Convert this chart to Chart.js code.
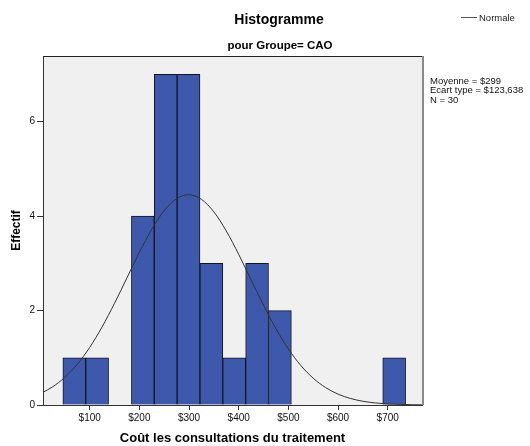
<!DOCTYPE html>
<html>
<head>
<meta charset="utf-8">
<script src="https://cdn.jsdelivr.net/npm/chart.js@4/dist/chart.umd.min.js"></script>
<style>
html,body{margin:0;padding:0;background:#fff;}
#wrap{width:530px;height:446px;position:relative;}
</style>
</head>
<body>
<div id="wrap"><canvas id="c" width="530" height="446"></canvas></div>
<script>
// ---- Data ----
const binStarts = [46, 92, 138, 184, 230, 276, 322, 368, 414, 460, 506, 552, 598, 644, 690];
const binWidth = 46;
const counts = [1, 1, 0, 4, 7, 7, 3, 1, 3, 2, 0, 0, 0, 0, 1];
const curveX = [6, 25, 50, 75, 100, 125, 150, 175, 200, 225, 250, 275, 299, 325, 350, 375, 400, 425, 450, 475, 500, 525, 550, 575, 600, 625, 650, 675, 700, 725, 750, 769];
const curveY = [0.268, 0.382, 0.586, 0.862, 1.219, 1.654, 2.154, 2.692, 3.231, 3.722, 4.116, 4.369, 4.452, 4.355, 4.089, 3.685, 3.189, 2.649, 2.112, 1.616, 1.187, 0.837, 0.567, 0.369, 0.230, 0.138, 0.079, 0.044, 0.023, 0.012, 0.006, 0.003];
const xTickValues = [100, 200, 300, 400, 500, 600, 700];
const yTickValues = [0, 2, 4, 6];
const titleText = "Histogramme";
const subtitleText = "pour Groupe= CAO";
const legendLabel = "Normale";
const statsLines = ["Moyenne = $299", "Ecart type = $123,638", "N = 30"];
const xTitle = "Coût les consultations du traitement";
const yTitle = "Effectif";

const FONT = "'Liberation Sans', Arial, sans-serif";

const barData = binStarts.map((s, i) => ({ x: s + binWidth / 2, y: counts[i] > 0 ? counts[i] : null }));
const curveData = curveX.map((x, i) => ({ x: x, y: curveY[i] }));

const decor = {
  id: 'decor',
  beforeDraw(chart) {
    const { ctx, chartArea: a } = chart;
    ctx.save();
    ctx.fillStyle = '#f0f0f0';
    ctx.fillRect(a.left, a.top, a.right - a.left, a.bottom - a.top);
    ctx.restore();
  },
  afterDraw(chart) {
    const { ctx, chartArea: a } = chart;
    ctx.save();
    // top border
    ctx.strokeStyle = '#222';
    ctx.lineWidth = 1;
    ctx.beginPath();
    ctx.moveTo(a.left, a.top + 0.5);
    ctx.lineTo(a.right, a.top + 0.5);
    ctx.stroke();
    // right border (grey)
    ctx.strokeStyle = '#8a8a8a';
    ctx.lineWidth = 2;
    ctx.beginPath();
    ctx.moveTo(a.right + 1, a.top);
    ctx.lineTo(a.right + 1, a.bottom);
    ctx.stroke();

    // titles
    ctx.fillStyle = '#000';
    ctx.textAlign = 'center';
    ctx.textBaseline = 'middle';
    ctx.font = 'bold 14px ' + FONT;
    ctx.fillText(titleText, 279, 20);
    ctx.font = 'bold 11.5px ' + FONT;
    ctx.fillText(subtitleText, 280, 46);

    // legend
    ctx.strokeStyle = '#555';
    ctx.lineWidth = 1;
    ctx.beginPath();
    ctx.moveTo(461, 17.5);
    ctx.lineTo(477, 17.5);
    ctx.stroke();
    ctx.textAlign = 'left';
    ctx.font = '9.5px ' + FONT;
    ctx.fillStyle = '#222';
    ctx.fillText(legendLabel, 479, 18);

    // stats
    ctx.font = '9.5px ' + FONT;
    ctx.fillStyle = '#111';
    statsLines.forEach((t, i) => ctx.fillText(t, 430, 81 + i * 9.5));
    ctx.restore();
  }
};

new Chart(document.getElementById('c'), {
  type: 'bar',
  data: {
    datasets: [
      {
        type: 'line',
        label: legendLabel,
        data: curveData,
        borderColor: '#333',
        borderWidth: 1,
        pointRadius: 0,
        tension: 0.4,
        cubicInterpolationMode: 'monotone',
        fill: false,
        order: 0
      },
      {
        type: 'bar',
        label: 'Effectif',
        data: barData,
        backgroundColor: '#3e58ac',
        borderColor: '#15151f',
        borderWidth: 1,
        barPercentage: 1,
        categoryPercentage: 1,
        order: 1
      }
    ]
  },
  options: {
    responsive: false,
    animation: false,
    layout: { padding: { top: 56, right: 108, left: 0, bottom: 0 } },
    plugins: { legend: { display: false }, tooltip: { enabled: false }, title: { display: false } },
    scales: {
      x: {
        type: 'linear',
        min: 6,
        max: 769,
        offset: false,
        afterBuildTicks: (s) => { s.ticks = xTickValues.map(v => ({ value: v })); },
        afterFit: (s) => { s.height = 41; },
        ticks: {
          callback: (v) => '$' + v,
          font: { family: FONT, size: 10 },
          color: '#111',
          padding: 2,
          maxRotation: 0,
          autoSkip: false
        },
        grid: { display: true, drawOnChartArea: false, drawTicks: true, tickLength: 5, color: '#333', offset: false },
        border: { display: true, color: '#333', width: 1 },
        title: { display: true, text: xTitle, font: { family: FONT, size: 13, weight: 'bold' }, color: '#000', padding: { top: 0, bottom: 0 } }
      },
      y: {
        type: 'linear',
        min: 0,
        max: 7.39,
        afterBuildTicks: (s) => { s.ticks = yTickValues.map(v => ({ value: v })); },
        afterFit: (s) => { s.width = 43; },
        ticks: {
          font: { family: FONT, size: 10 },
          color: '#111',
          padding: 2
        },
        grid: { display: true, drawOnChartArea: false, drawTicks: true, tickLength: 6, color: '#333' },
        border: { display: true, color: '#333', width: 1 },
        title: { display: true, text: yTitle, font: { family: FONT, size: 12, weight: 'bold' }, color: '#000', padding: { top: 9.5, bottom: 0 } }
      }
    }
  },
  plugins: [decor]
});
</script>
</body>
</html>
